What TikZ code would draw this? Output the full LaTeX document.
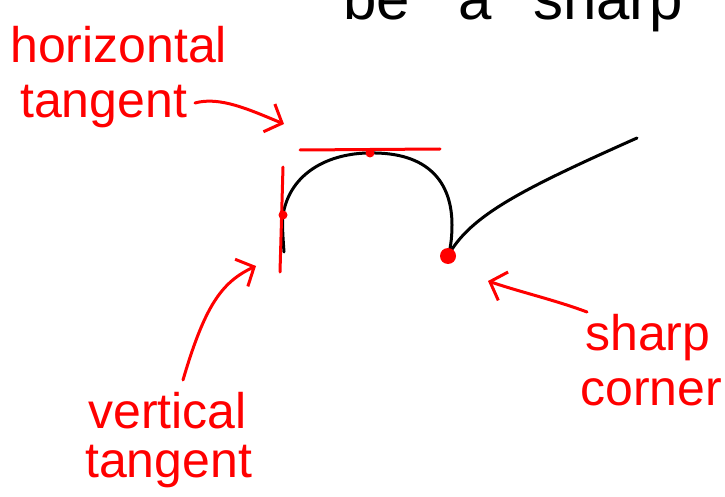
\documentclass[tikz,border=0pt]{standalone}
\usepackage{fontspec}
\setmainfont{Liberation Sans}
\usetikzlibrary{arrows.meta}
\tikzset{
  ink/.style={line width=3pt, line cap=round, line join=round},
  redink/.style={ink, draw=red},
  lbl/.style={text=red, font=\fontsize{50}{50}\selectfont, inner sep=0pt, anchor=base west},
  toptxt/.style={text=black, font=\fontsize{60}{60}\selectfont, inner sep=0pt, anchor=base west},
  barb/.style={-{Straight Barb[length=14pt,width=30pt,line width=3pt]}},
}
\begin{document}
\begin{tikzpicture}[x=1pt,y=-1pt]
\useasboundingbox (0,0) rectangle (725,497);
\clip (0,0) rectangle (725,497);
% top text
\node[toptxt] (tbe) at (343,20) {be};
\node[toptxt] (ta) at (458,20) {a};
\node[toptxt] (tsharp) at (533,20) {sharp};
% labels
\node[lbl] (h1) at (10,63) {horizontal};
\node[lbl] (h2) at (20,118) {tangent};
\node[lbl] (v1) at (88,428) {vertical};
\node[lbl] (v2) at (85,477) {tangent};
\node[lbl] (s1) at (585,350) {sharp};
\node[lbl] (s2) at (580,405) {corner};
% key points
\coordinate (vt) at (283,215);
\coordinate (top) at (370,153);
\coordinate (corner) at (448,256);
\coordinate (rend) at (637,138);
% black curve
\draw[ink] (284,252) .. controls (283,238) and (282,226) .. (vt)
  .. controls (290,172) and (330,153) .. (top)
  .. controls (428,152) and (452,182) .. (452,225)
  .. controls (452,240) and (450,250) .. (corner);
\draw[ink] (corner) .. controls (470,215) and (525,188) .. (rend);
% tangents
\draw[redink] (300,150) -- (440,149);
\draw[redink] (283,167) -- (280,272);
\fill[red] (top) circle (4.5);
\fill[red] (vt) circle (4.5);
\fill[red] (corner) circle (8);
% arrows
\coordinate (ha0) at (195,103);
\coordinate (ha1) at (284,124);
\draw[redink, barb] (ha0) .. controls (220,96) and (250,110) .. (ha1);
\coordinate (va0) at (183,380);
\coordinate (va1) at (256,266);
\draw[redink, barb] (va0) .. controls (205,305) and (222,282) .. (va1);
\coordinate (sa0) at (587,312);
\coordinate (sa1) at (488,281);
\draw[redink, barb] (sa0) .. controls (555,300) and (520,292) .. (sa1);
\end{tikzpicture}
\end{document}
